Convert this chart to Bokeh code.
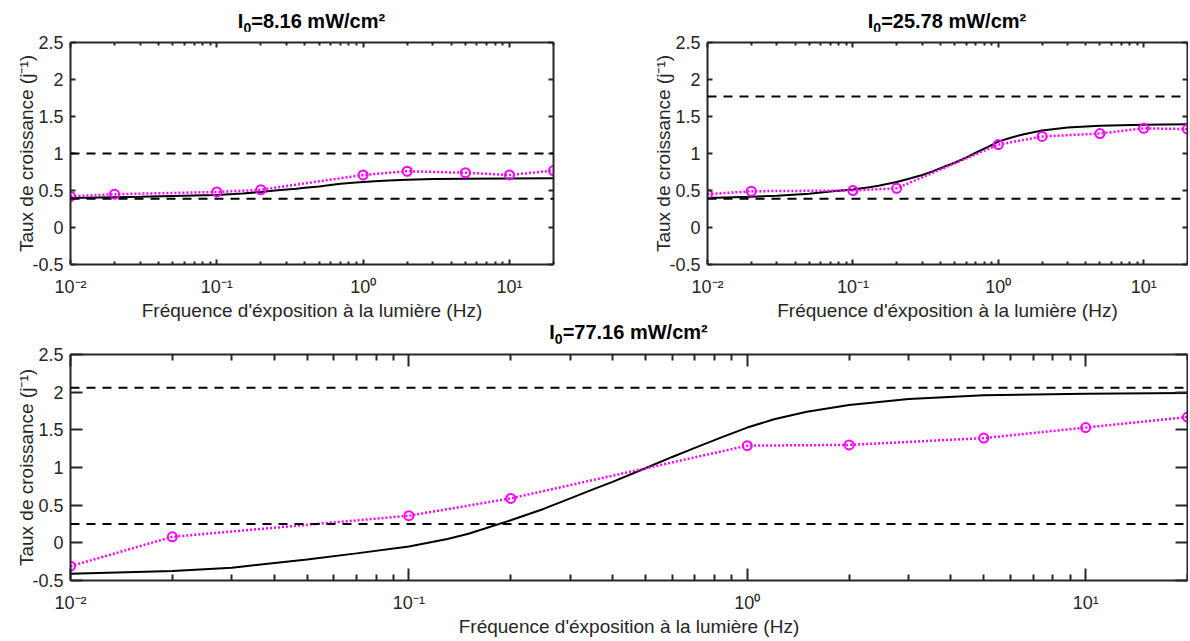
from bokeh.plotting import figure
from bokeh.models import Range1d, FixedTicker, LogAxis, LinearAxis, Span, Div
from bokeh.layouts import column, row
from bokeh.embed import file_html
from bokeh.resources import INLINE

# ---------------- data ----------------
freq = [0.01, 0.02, 0.1, 0.2, 1, 2, 5, 10, 20]
meas_8 = [0.42, 0.45, 0.48, 0.51, 0.71, 0.76, 0.74, 0.71, 0.77]
meas_25 = [0.45, 0.49, 0.50, 0.53, 1.12, 1.23, 1.27, 1.34, 1.33]
meas_77 = [-0.31, 0.08, 0.36, 0.59, 1.29, 1.30, 1.39, 1.53, 1.67]

model_freq = [0.01, 0.02, 0.03, 0.05, 0.07, 0.1, 0.13, 0.15, 0.2, 0.25, 0.3, 0.35,
              0.4, 0.5, 0.6, 0.7, 0.85, 1, 1.2, 1.5, 2, 3, 5, 10, 20]
model_8 = [0.40, 0.41, 0.415, 0.425, 0.432, 0.44, 0.452, 0.46, 0.48, 0.50, 0.515, 0.525,
           0.537, 0.555, 0.575, 0.59, 0.604, 0.615, 0.625, 0.635, 0.645, 0.655, 0.66, 0.663, 0.665]
model_25 = [0.40, 0.415, 0.43, 0.455, 0.485, 0.515, 0.545, 0.565, 0.615, 0.665, 0.71, 0.755,
            0.80, 0.875, 0.945, 1.01, 1.09, 1.16, 1.21, 1.26, 1.31, 1.35, 1.375, 1.39, 1.395]
model_77 = [-0.41, -0.375, -0.33, -0.22, -0.14, -0.05, 0.05, 0.12, 0.30, 0.45, 0.59, 0.71,
            0.81, 0.99, 1.14, 1.26, 1.41, 1.53, 1.64, 1.74, 1.83, 1.91, 1.96, 1.98, 1.99]

bounds_8 = [1.0, 0.39]
bounds_25 = [1.77, 0.39]
bounds_77 = [2.06, 0.25]

intensities = ["8.16", "25.78", "77.16"]
x_label = "Fréquence d'éxposition à la lumière (Hz)"
y_label = "Taux de croissance (j\u207b\u00b9)"

x_ticks = [0.01, 0.1, 1, 10]
x_tick_labels = ["10\u207b\u00b2", "10\u207b\u00b9", "10\u2070", "10\u00b9"]
y_ticks = [-0.5, 0, 0.5, 1, 1.5, 2, 2.5]
y_tick_labels = ["-0.5", "0", "0.5", "1", "1.5", "2", "2.5"]

# ---------------- styling ----------------
FONT = "Liberation Sans"
AX = "#262626"
MAGENTA = "#FF00FF"
XMIN, XMAX, YMIN, YMAX = 0.01, 20, -0.5, 2.5
minor = [m * 10.0 ** e for e in (-2, -1, 0, 1) for m in range(2, 10) if m * 10.0 ** e <= XMAX]


def style_axis(ax, major_in, minor_in, labels):
    ax.axis_line_color = AX
    ax.axis_line_width = 2
    ax.major_tick_line_color = AX
    ax.major_tick_line_width = 2
    ax.minor_tick_line_color = AX
    ax.minor_tick_line_width = 2
    ax.major_tick_in = major_in
    ax.major_tick_out = 0
    ax.minor_tick_in = minor_in
    ax.minor_tick_out = 0
    if labels:
        ax.major_label_text_font = FONT
        ax.major_label_text_font_size = "18px"
        ax.major_label_text_color = AX
        ax.axis_label_text_font = FONT
        ax.axis_label_text_font_size = "19px"
        ax.axis_label_text_font_style = "normal"
        ax.axis_label_text_color = AX
    else:
        ax.major_label_text_font_size = "1px"
        ax.major_label_text_color = None
        ax.major_label_standoff = 0


def make_fig(meas, model, bounds, fw, fh, mbl, mbr, mbt, mbb, tmaj, tmin):
    p = figure(x_axis_type="log", x_range=Range1d(XMIN, XMAX), y_range=Range1d(YMIN, YMAX),
               frame_width=fw, frame_height=fh, title=None,
               min_border_left=mbl, min_border_right=mbr,
               min_border_top=mbt, min_border_bottom=mbb,
               toolbar_location=None, output_backend="svg")
    p.grid.visible = False
    p.outline_line_color = None
    p.background_fill_color = "white"
    p.border_fill_color = "white"

    xt = FixedTicker(ticks=x_ticks, minor_ticks=minor)
    yt = FixedTicker(ticks=y_ticks, minor_ticks=[])

    xa = p.xaxis[0]
    xa.ticker = xt
    xa.major_label_overrides = dict(zip(x_ticks, x_tick_labels))
    xa.axis_label = x_label
    xa.major_label_standoff = 12
    xa.axis_label_standoff = 0
    style_axis(xa, tmaj, tmin, True)

    ya = p.yaxis[0]
    ya.ticker = yt
    ya.major_label_overrides = dict(zip(y_ticks, y_tick_labels))
    ya.axis_label = y_label
    ya.major_label_standoff = 7
    ya.axis_label_standoff = -8
    style_axis(ya, tmaj, 0, True)

    top = LogAxis(ticker=xt)
    style_axis(top, tmaj, tmin, False)
    p.add_layout(top, "above")
    right = LinearAxis(ticker=yt)
    style_axis(right, tmaj, 0, False)
    p.add_layout(right, "right")

    for b in bounds:
        p.add_layout(Span(location=b, dimension="width", line_color="black",
                          line_width=2, line_dash="9 7"))

    p.line(model_freq, model, line_color="black", line_width=2)
    p.line(freq, meas, line_color=MAGENTA, line_width=2.5, line_dash="2 2")
    p.scatter(freq, meas, marker="circle", size=9, line_color=MAGENTA,
              line_width=2, fill_color=None)
    return p


def make_title(intensity, width, height, line_h, margin):
    html = ("I<span style=\"font-size:14px; position:relative; top:5px;\">0</span>"
            "=" + intensity + " mW/cm\u00b2")
    return Div(text=html, width=width, height=height, margin=margin,
               styles={"font-family": FONT, "font-size": "20px", "font-weight": "bold",
                       "color": "black", "text-align": "center",
                       "line-height": line_h, "white-space": "nowrap"})


p1 = make_fig(meas_8, model_8, bounds_8, 483, 222, 70, 84, 11, 59, 5, 3)
p2 = make_fig(meas_25, model_25, bounds_25, 480, 222, 70, 1, 11, 59, 5, 3)
p3 = make_fig(meas_77, model_77, bounds_77, 1117, 226, 70, 1, 11, 59, 12, 6)

t1 = make_title(intensities[0], 483, 22, "25px", (9, 84, 0, 70))
t2 = make_title(intensities[1], 480, 22, "25px", (9, 1, 0, 70))
t3 = make_title(intensities[2], 1117, 20, "19px", (0, 1, 0, 70))

layout = column(row(column(t1, p1), column(t2, p2)), t3, p3)

with open("out.html", "w") as f:
    f.write(file_html(layout, INLINE))
